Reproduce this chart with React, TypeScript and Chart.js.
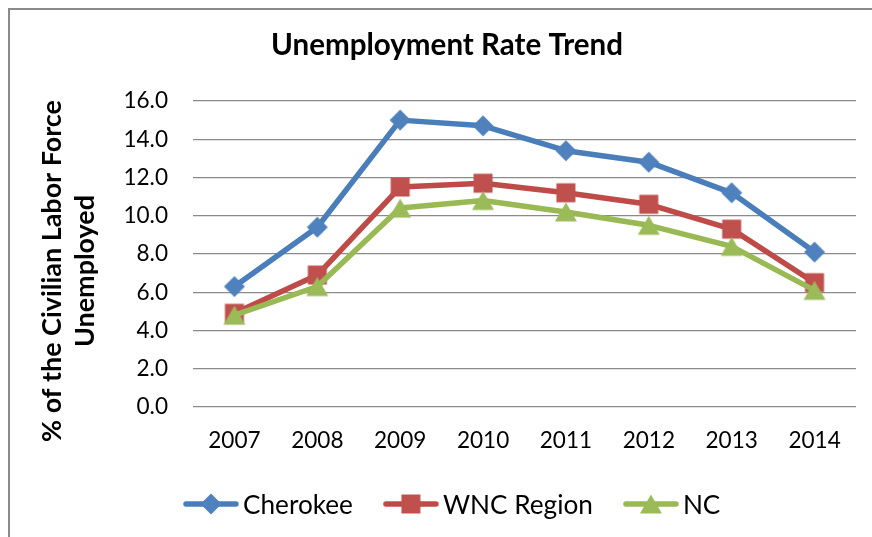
import { useEffect, useRef } from 'react';
import { Chart, registerables } from 'chart.js';

Chart.register(...registerables);

// ---- data ----
const years = ['2007', '2008', '2009', '2010', '2011', '2012', '2013', '2014'];
const cherokee = [6.3, 9.4, 15.0, 14.7, 13.4, 12.8, 11.2, 8.1];
const wncRegion = [4.9, 6.9, 11.5, 11.7, 11.2, 10.6, 9.3, 6.5];
const nc = [4.8, 6.3, 10.4, 10.8, 10.2, 9.5, 8.4, 6.1];
const seriesNames = ['Cherokee', 'WNC Region', 'NC'];
const chartTitle = 'Unemployment Rate Trend';
const yTitleLines = ['% of the Civilian Labor Force', 'Unemployed'];
const yMin = 0;
const yMax = 16;
const yStep = 2;

// ---- styles ----
const FONT = 'Lato, "Open Sans", sans-serif';
const LINE_COLORS = ['#4A7EBB', '#BE4B48', '#98B954'];
const FILL_COLORS = ['#4F81BD', '#C0504D', '#9BBB59'];
const SHAPES = ['diamond', 'square', 'triangle'];
const GRID_COLOR = '#8b8b8b';

function fitSize(texts: string[], weight: string, target: number): number {
  const c = document.createElement('canvas').getContext('2d') as CanvasRenderingContext2D;
  c.font = `${weight} 100px ${FONT}`;
  const w = texts.reduce((s, t) => s + c.measureText(t).width, 0);
  return (100 * target) / w;
}

function drawMarker(ctx: CanvasRenderingContext2D, shape: string, cx: number, cy: number, color: string) {
  ctx.fillStyle = color;
  ctx.beginPath();
  if (shape === 'diamond') {
    const r = 10.5;
    ctx.moveTo(cx, cy - r);
    ctx.lineTo(cx + r, cy);
    ctx.lineTo(cx, cy + r);
    ctx.lineTo(cx - r, cy);
  } else if (shape === 'square') {
    const h = 9.5;
    ctx.rect(cx - h, cy - h, 2 * h, 2 * h);
  } else {
    const hw = 11;
    const hh = 9.5;
    ctx.moveTo(cx, cy - hh);
    ctx.lineTo(cx + hw, cy + hh);
    ctx.lineTo(cx - hw, cy + hh);
  }
  ctx.closePath();
  ctx.fill();
}

function markerImage(shape: string, color: string): HTMLCanvasElement {
  const c = document.createElement('canvas');
  c.width = 24;
  c.height = 24;
  const ctx = c.getContext('2d') as CanvasRenderingContext2D;
  drawMarker(ctx, shape, 12, 12, color);
  return c;
}

function legendImage(shape: string, lineColor: string, fill: string): HTMLCanvasElement {
  const c = document.createElement('canvas');
  c.width = 56;
  c.height = 24;
  const ctx = c.getContext('2d') as CanvasRenderingContext2D;
  ctx.strokeStyle = lineColor;
  ctx.lineWidth = 5.5;
  ctx.lineCap = 'round';
  ctx.beginPath();
  ctx.moveTo(3, 12);
  ctx.lineTo(53, 12);
  ctx.stroke();
  drawMarker(ctx, shape, 28, 12, fill);
  return c;
}

export default function App() {
  const ref = useRef<HTMLCanvasElement | null>(null);

  useEffect(() => {
    document.documentElement.style.overflow = 'hidden';
    document.body.style.overflow = 'hidden';
    const canvas = ref.current;
    if (!canvas) return;

    const titleSize = fitSize([chartTitle], 'bold', 352);
    const yTitleSize = fitSize([yTitleLines[0]], 'bold', 342);
    const tickSize = fitSize(['2007', '16.0'], 'normal', 97);
    const legendSize = fitSize(['Cherokee', 'WNC Region'], 'normal', 260);

    const markers = SHAPES.map((s, i) => markerImage(s, FILL_COLORS[i]));
    const legendImgs = SHAPES.map((s, i) => legendImage(s, LINE_COLORS[i], FILL_COLORS[i]));

    const titlePlugin = {
      id: 'excelTitles',
      afterDraw(chart: any) {
        const { ctx, chartArea } = chart;
        ctx.save();
        ctx.fillStyle = '#000';
        ctx.textAlign = 'center';
        ctx.textBaseline = 'alphabetic';
        // chart title
        ctx.font = `bold ${titleSize}px ${FONT}`;
        ctx.fillText(chartTitle, 437, 45);
        // y axis title (two rotated lines)
        const cy = (chartArea.top + chartArea.bottom) / 2 + 17;
        ctx.font = `bold ${yTitleSize}px ${FONT}`;
        const xs = [51, 84];
        yTitleLines.forEach((line, i) => {
          ctx.save();
          ctx.translate(xs[i], cy);
          ctx.rotate(-Math.PI / 2);
          ctx.fillText(line, 0, 0);
          ctx.restore();
        });
        ctx.restore();
      },
    };

    const legendPlugin = {
      id: 'excelLegend',
      afterDraw(chart: any) {
        const { ctx } = chart;
        ctx.save();
        ctx.font = `${legendSize}px ${FONT}`;
        ctx.fillStyle = '#000';
        ctx.textBaseline = 'alphabetic';
        let x = 173;
        const lineY = 494;
        const baseY = 504;
        chart.data.datasets.forEach((ds: any, i: number) => {
          const img = legendImgs[i];
          ctx.drawImage(img, x, lineY - img.height / 2);
          x += img.width + 4;
          ctx.fillText(ds.label, x, baseY);
          x += ctx.measureText(ds.label).width + 30;
        });
        ctx.restore();
      },
    };

    const seriesValues = [cherokee, wncRegion, nc];
    const chart = new Chart(canvas, {
      type: 'line',
      data: {
        labels: years,
        datasets: seriesNames.map((name, i) => ({
          label: name,
          data: seriesValues[i],
          borderColor: LINE_COLORS[i],
          backgroundColor: FILL_COLORS[i],
          borderWidth: 5.5,
          borderJoinStyle: 'round',
          borderCapStyle: 'round',
          pointStyle: markers[i],
          pointRadius: 10,
          pointHoverRadius: 10,
          tension: 0,
          fill: false,
          order: 3 - i,
        })),
      },
      options: {
        responsive: false,
        animation: false,
        devicePixelRatio: 1,
        layout: { padding: { left: 0, right: 16, top: 91, bottom: 0 } },
        plugins: {
          legend: { display: false },
          tooltip: { enabled: false },
          title: { display: false },
        },
        scales: {
          x: {
            type: 'category',
            offset: true,
            grid: { display: false, drawTicks: false },
            border: { display: false },
            ticks: {
              color: '#000',
              padding: 21,
              maxRotation: 0,
              font: { family: FONT, size: tickSize, lineHeight: '26px' },
            },
            afterFit: (s: any) => {
              s.height = 130;
            },
          },
          y: {
            min: yMin,
            max: yMax,
            grid: { color: GRID_COLOR, lineWidth: 1.3, drawTicks: false },
            border: { display: false },
            ticks: {
              stepSize: yStep,
              color: '#000',
              padding: 25,
              font: { family: FONT, size: tickSize },
              callback: (v: any) => Number(v).toFixed(1),
            },
            afterFit: (s: any) => {
              s.width = 183;
            },
          },
        },
      },
      plugins: [titlePlugin, legendPlugin],
    } as any);

    return () => chart.destroy();
  }, []);

  return (
    <div
      style={{
        position: 'fixed',
        left: 8,
        top: 8,
        width: 880,
        height: 545,
        overflow: 'hidden',
        boxSizing: 'border-box',
        borderLeft: '2px solid #8a8a8a',
        borderTop: '2px solid #8a8a8a',
        background: '#fff',
      }}
    >
      <canvas ref={ref} width={862} height={527} style={{ display: 'block', width: 862, height: 527 }} />
    </div>
  );
}
